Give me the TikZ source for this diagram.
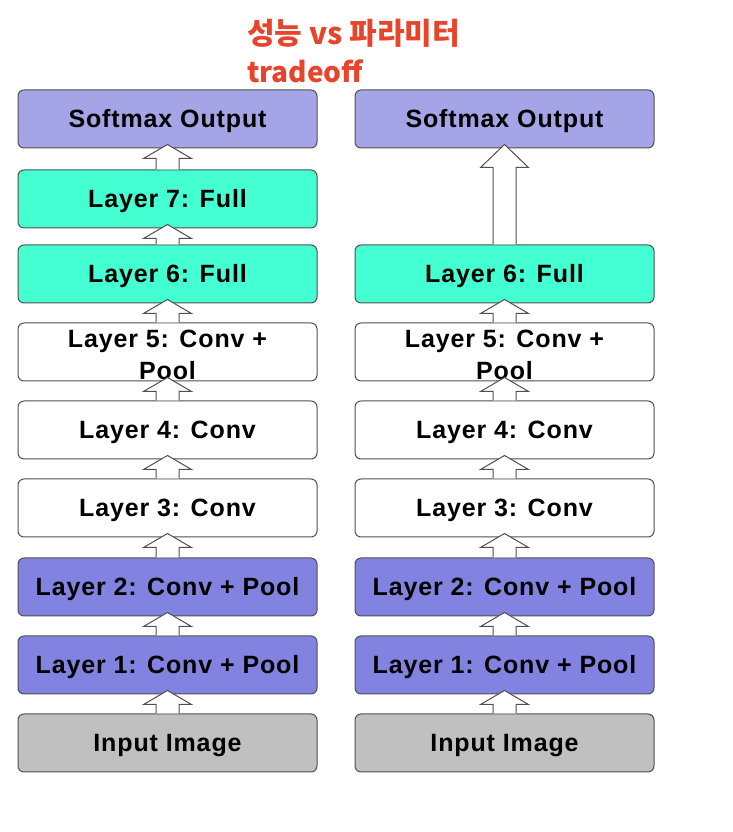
\documentclass[tikz,border=0pt]{standalone}
\usepackage{fontspec}
\setmainfont{Liberation Sans}
\newfontfamily\layerfont{Liberation Sans}[LetterSpace=3.5]
\newfontfamily\cjk{Noto Sans CJK KR}
\usetikzlibrary{calc}

\definecolor{softmaxblue}{HTML}{A4A4E6}
\definecolor{fullgreen}{HTML}{44FFD2}
\definecolor{convblue}{HTML}{8282E0}
\definecolor{inputgray}{HTML}{C0C0C0}
\definecolor{titlered}{HTML}{E8432B}
\definecolor{edgegray}{HTML}{505050}

% block arrow from the top of one box to the bottom of the next
\newcommand{\uparr}[3]{%
	\draw[blockarrow] let \p1=(#1.north), \p2=(#2.south) in
		(\x1-11.5,\y1) -- (\x1-11.5,\y2+4-#3) -- (\x1-24,\y2+4-#3) -- (\x1,\y2+4)
		-- (\x1+24,\y2+4-#3) -- (\x1+11.5,\y2+4-#3) -- (\x1+11.5,\y1);}

\begin{document}
\begin{tikzpicture}[
		x=1pt, y=1pt,
		layerbox/.style={draw=edgegray, line width=1pt, rounded corners=6pt,
			minimum width=299pt, minimum height=58pt, inner sep=0pt, align=center,
			text height=18pt, text depth=0pt,
			text=black, font=\layerfont\bfseries\fontsize{25}{32}\selectfont},
		twoline/.style={text height=56pt},
		blockarrow/.style={draw=edgegray, fill=white, line width=1pt},
		titletext/.style={anchor=base west, inner sep=0pt, text=titlered}
	]
	\useasboundingbox (0,0) rectangle (732,832);

	% Title
	\node[titletext, font=\cjk\bfseries\fontsize{30}{38}\selectfont] (title1) at (247,787) {성능 vs 파라미터};
	\node[titletext, font=\cjk\bfseries\fontsize{28}{38}\selectfont] (title2) at (247,749) {tradeoff};

	% Left column
	\node[layerbox, fill=softmaxblue] (lsoft) at (167.5,713) {Softmax Output};
	\node[layerbox, fill=fullgreen] (lseven) at (167.5,633) {Layer 7: Full};
	\node[layerbox, fill=fullgreen] (lsix) at (167.5,558) {Layer 6: Full};
	\node[layerbox, twoline, fill=white] (lfive) at (167.5,480) {Layer 5: Conv +\\Pool};
	\node[layerbox, fill=white] (lfour) at (167.5,402) {Layer 4: Conv};
	\node[layerbox, fill=white] (lthree) at (167.5,324) {Layer 3: Conv};
	\node[layerbox, fill=convblue] (ltwo) at (167.5,245) {Layer 2: Conv + Pool};
	\node[layerbox, fill=convblue] (lone) at (167.5,167) {Layer 1: Conv + Pool};
	\node[layerbox, fill=inputgray] (linput) at (167.5,89) {Input Image};

	% Right column
	\node[layerbox, fill=softmaxblue] (rsoft) at (504.5,713) {Softmax Output};
	\node[layerbox, fill=fullgreen] (rsix) at (504.5,558) {Layer 6: Full};
	\node[layerbox, twoline, fill=white] (rfive) at (504.5,480) {Layer 5: Conv +\\Pool};
	\node[layerbox, fill=white] (rfour) at (504.5,402) {Layer 4: Conv};
	\node[layerbox, fill=white] (rthree) at (504.5,324) {Layer 3: Conv};
	\node[layerbox, fill=convblue] (rtwo) at (504.5,245) {Layer 2: Conv + Pool};
	\node[layerbox, fill=convblue] (rone) at (504.5,167) {Layer 1: Conv + Pool};
	\node[layerbox, fill=inputgray] (rinput) at (504.5,89) {Input Image};

	% Arrows
	\uparr{linput}{lone}{14}
	\uparr{lone}{ltwo}{14}
	\uparr{ltwo}{lthree}{14}
	\uparr{lthree}{lfour}{14}
	\uparr{lfour}{lfive}{14}
	\uparr{lfive}{lsix}{14}
	\uparr{lsix}{lseven}{14}
	\uparr{lseven}{lsoft}{14}

	\uparr{rinput}{rone}{14}
	\uparr{rone}{rtwo}{14}
	\uparr{rtwo}{rthree}{14}
	\uparr{rthree}{rfour}{14}
	\uparr{rfour}{rfive}{14}
	\uparr{rfive}{rsix}{14}
	\uparr{rsix}{rsoft}{23}
\end{tikzpicture}
\end{document}
